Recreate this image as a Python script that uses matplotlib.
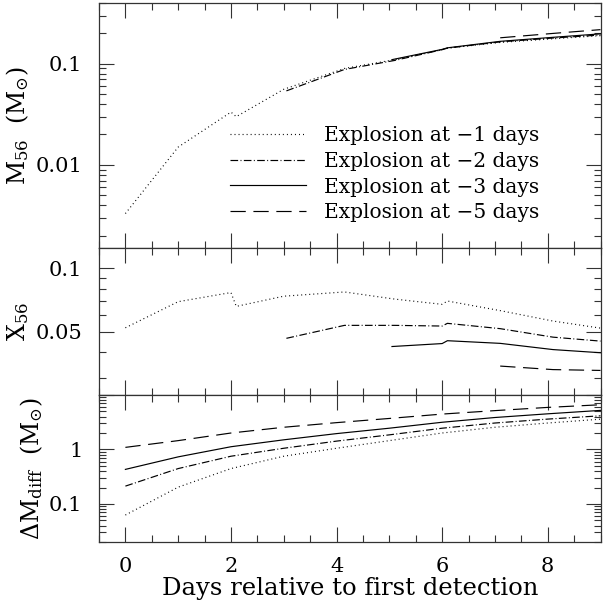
import matplotlib
matplotlib.use("Agg")
import matplotlib.pyplot as plt
from matplotlib.ticker import MultipleLocator, FixedLocator, FixedFormatter, NullFormatter

# ---------------- data ----------------
# Explosion at -1 days (dotted)
t_m1 = [0, 1, 2, 2.1, 3, 4.15, 5.1, 6.0, 6.1, 7.1, 8.1, 9]
m56_m1 = [0.0033, 0.015, 0.0333, 0.030, 0.056, 0.090, 0.110, 0.138, 0.143, 0.163, 0.177, 0.190]
x56_m1 = [0.0522, 0.0695, 0.0768, 0.066, 0.0738, 0.0773, 0.0715, 0.0675, 0.070, 0.063, 0.0562, 0.052]

# Explosion at -2 days (dash-dot)
t_m2 = [3.05, 4.15, 5.1, 6.0, 6.1, 7.1, 8.1, 9]
m56_m2 = [0.054, 0.088, 0.108, 0.138, 0.143, 0.165, 0.180, 0.193]
x56_m2 = [0.0465, 0.0536, 0.0536, 0.0532, 0.0548, 0.0517, 0.0471, 0.0451]

# Explosion at -3 days (solid)
t_m3 = [5.05, 6.0, 6.1, 7.1, 8.1, 9]
m56_m3 = [0.110, 0.139, 0.144, 0.167, 0.183, 0.198]
x56_m3 = [0.0425, 0.0439, 0.0453, 0.0440, 0.0411, 0.0397]

# Explosion at -5 days (dashed)
t_m5 = [7.1, 8.1, 9]
m56_m5 = [0.181, 0.200, 0.218]
x56_m5 = [0.0343, 0.0330, 0.0327]

# Delta M_diff panel
days = [0, 1, 2, 3, 4, 5, 6, 7, 8, 9]
dm_m1 = [0.0625, 0.203, 0.445, 0.75, 1.05, 1.45, 2.0, 2.55, 3.05, 3.59]
dm_m2 = [0.212, 0.445, 0.75, 1.05, 1.42, 1.85, 2.45, 3.05, 3.6, 4.14]
dm_m3 = [0.43, 0.73, 1.12, 1.5, 1.95, 2.45, 3.15, 3.85, 4.5, 5.2]
dm_m5 = [1.09, 1.45, 2.0, 2.55, 3.1, 3.7, 4.45, 5.15, 5.9, 6.6]

labels = ["Explosion at \u22121 days", "Explosion at \u22122 days",
          "Explosion at \u22123 days", "Explosion at \u22125 days"]

xticks = [0, 2, 4, 6, 8]
m56_ticks = [0.01, 0.1]
m56_ticklabels = ["0.01", "0.1"]
x56_ticks = [0.05, 0.1]
x56_ticklabels = ["0.05", "0.1"]
x56_minor = [0.03, 0.04, 0.06, 0.07, 0.08, 0.09]
dm_ticks = [0.1, 1, 10]
dm_ticklabels = ["0.1", "1", ""]

# ---------------- style ----------------
plt.rcParams["font.family"] = ["DejaVu Serif"]
plt.rcParams["mathtext.fontset"] = "dejavuserif"
plt.rcParams["lines.scale_dashes"] = False

LW = 0.85
styles = [
    dict(linestyle=(0, (0.7, 2.2))),
    dict(linestyle=(0, (5.5, 1.7, 0.7, 1.7))),
    dict(linestyle="-"),
    dict(linestyle=(0, (11.0, 5.5))),
]
col = "black"

fig = plt.figure(figsize=(6.03, 6.0), dpi=100)
gs = fig.add_gridspec(3, 1, height_ratios=[245, 146.7, 147],
                      left=99 / 603, right=600.5 / 603,
                      top=1 - 3 / 600, bottom=1 - 542 / 600, hspace=0)
ax1 = fig.add_subplot(gs[0])
ax2 = fig.add_subplot(gs[1], sharex=ax1)
ax3 = fig.add_subplot(gs[2], sharex=ax1)

series_t = [t_m1, t_m2, t_m3, t_m5]
series_m = [m56_m1, m56_m2, m56_m3, m56_m5]
series_x = [x56_m1, x56_m2, x56_m3, x56_m5]
series_dm = [dm_m1, dm_m2, dm_m3, dm_m5]

handles = []
for t, m, st, lab in zip(series_t, series_m, styles, labels):
    h, = ax1.plot(t, m, color=col, lw=LW, label=lab, **st)
    handles.append(h)
for t, x, st in zip(series_t, series_x, styles):
    ax2.plot(t, x, color=col, lw=LW, **st)
for dm, st in zip(series_dm, styles):
    ax3.plot(days, dm, color=col, lw=LW, **st)

for ax in (ax1, ax2, ax3):
    ax.set_yscale("log")
    ax.set_xlim(-0.5, 9)
    ax.xaxis.set_major_locator(FixedLocator(xticks))
    ax.xaxis.set_minor_locator(MultipleLocator(0.5))
    ax.tick_params(which="both", direction="in", top=True, right=True,
                   labelsize=15, width=0.8, color="#333333")
    ax.tick_params(which="major", length=10.5)
    ax.tick_params(which="minor", length=5.2)
    ax.tick_params(axis="y", pad=12)
    ax.tick_params(axis="x", pad=10.5)
    for s in ax.spines.values():
        s.set_linewidth(0.9)
        s.set_color("#333333")

ax1.set_ylim(0.0015, 0.4)
ax1.yaxis.set_major_locator(FixedLocator(m56_ticks))
ax1.yaxis.set_major_formatter(FixedFormatter(m56_ticklabels))
ax1.yaxis.set_minor_locator(FixedLocator(
    [k * 10.0 ** e for e in (-3, -2, -1) for k in range(2, 10)]))
ax1.yaxis.set_minor_formatter(NullFormatter())

ax2.set_ylim(0.025, 0.125)
ax2.yaxis.set_major_locator(FixedLocator(x56_ticks))
ax2.yaxis.set_major_formatter(FixedFormatter(x56_ticklabels))
ax2.yaxis.set_minor_locator(FixedLocator(x56_minor))
ax2.yaxis.set_minor_formatter(NullFormatter())

ax3.set_ylim(0.02, 10)
ax3.yaxis.set_major_locator(FixedLocator(dm_ticks))
ax3.yaxis.set_major_formatter(FixedFormatter(dm_ticklabels))
ax3.yaxis.set_minor_locator(FixedLocator(
    [k * 10.0 ** e for e in (-2, -1, 0) for k in range(2, 10)]))
ax3.yaxis.set_minor_formatter(NullFormatter())

plt.setp(ax1.get_xticklabels(), visible=False)
plt.setp(ax2.get_xticklabels(), visible=False)

ax1.set_ylabel(r"M$_{56}$  (M$_{\odot}$)", fontsize=17, labelpad=3)
ax2.set_ylabel(r"X$_{56}$", fontsize=17, labelpad=3)
ax3.set_ylabel(r"$\Delta$M$_{\rm diff}$  (M$_{\odot}$)", fontsize=17, labelpad=3)
ax3.set_xlabel("Days relative to first detection", fontsize=17.5, labelpad=1)

ax1.legend(handles=handles, loc="center left", bbox_to_anchor=(0.261, 0.302),
           frameon=False, fontsize=14.5, handlelength=3.8, handletextpad=0.85,
           labelspacing=0.34, borderpad=0, borderaxespad=0)

fig.savefig("out.png", dpi=100)
